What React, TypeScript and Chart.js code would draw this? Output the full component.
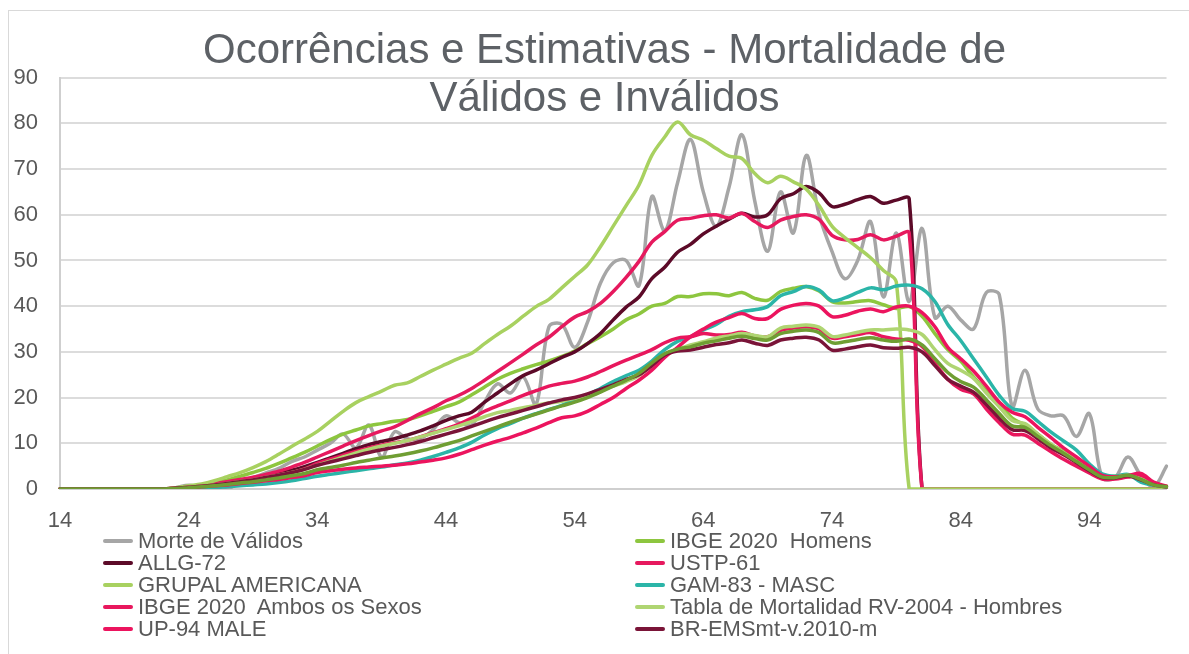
import React, { useEffect, useRef } from "react";
import { Chart, registerables } from "chart.js";

Chart.register(...registerables);

const FONT = '"Liberation Sans", Arial, sans-serif';
const TEXT_COLOR = "#595959";

const TITLE_LINES = ["Ocorrências e Estimativas - Mortalidade de", "Válidos e Inválidos"];

const ages = [
  "14", "15", "16", "17", "18", "19", "20", "21", "22", "23", "24", "25", "26", "27", "28", "29", "30",
  "31", "32", "33", "34", "35", "36", "37", "38", "39", "40", "41", "42", "43", "44", "45", "46", "47",
  "48", "49", "50", "51", "52", "53", "54", "55", "56", "57", "58", "59", "60", "61", "62", "63", "64",
  "65", "66", "67", "68", "69", "70", "71", "72", "73", "74", "75", "76", "77", "78", "79", "80", "81",
  "82", "83", "84", "85", "86", "87", "88", "89", "90", "91", "92", "93", "94", "95", "96", "97", "98",
  "99", "100",
];

const xTickLabels = ["14", "24", "34", "44", "54", "64", "74", "84", "94"];

// ages 14-22 | 23-27 | 28-32 | 33-37 | 38-42 | 43-47 | 48-52 | 53-57 | 58-62 | 63-67 | 68-72 | 73-77 | 78-82 | 83-87 | 88-92 | 93-97 | 98-100
const morteValidos = [
  0, 0, 0, 0, 0, 0, 0, 0, 0,
  0.3, 0.8, 0.3, 0.2, 0,
  1.5, 2.5, 3.5, 4.5, 6,
  7, 8.5, 10, 12, 9,
  14, 7, 12.5, 11, 11,
  13, 16, 14.5, 14, 19,
  23, 21, 24.5, 18.5, 35.5,
  36, 31, 36.5, 45, 49.5,
  50, 44.5, 64, 56.5, 67,
  76.5, 65, 57.5, 66, 77.5,
  63, 52, 65, 56, 73,
  60, 52, 46, 50, 58.5,
  42, 56, 41, 57, 37.5,
  40, 37, 35, 43, 42.5,
  18, 26, 17.5, 16, 16,
  11.5, 16.5, 2.5, 2.5, 7,
  3, 0.5, 5,
];

const ibgeHomens = [
  0, 0, 0, 0, 0, 0, 0, 0, 0,
  0.2, 0.5, 0.9, 1.4, 2.0,
  2.8, 3.6, 4.5, 5.6, 6.8,
  8.0, 9.4, 10.8, 12.0, 12.9,
  13.8, 14.3, 14.8, 15.2, 16.0,
  17.0, 18.0, 19.0, 20.6, 22.3,
  24.0, 25.3, 26.3, 27.2, 28.0,
  29.0, 30.2, 31.8, 33.3, 35.0,
  37.0, 38.3, 40.0, 40.6, 42.1,
  42.1, 42.7, 42.7, 42.3, 43.0,
  41.7, 41.3, 43.2, 43.9, 44.3,
  43.3, 41.0, 40.7, 41.0, 41.2,
  40.3, 39.5, 39.9, 37.8, 34.0,
  30.5, 28.0, 24.5, 21.5, 19.0,
  15.5, 14.0, 12.0, 9.8, 8.2,
  6.2, 4.2, 2.8, 2.8, 3.1,
  2.0, 0.9, 0.6,
];

const allg72 = [
  0, 0, 0, 0, 0, 0, 0, 0, 0,
  0.2, 0.4, 0.7, 1.0, 1.4,
  1.8, 2.3, 2.8, 3.4, 4.1,
  4.9, 5.8, 6.8, 7.8, 8.8,
  9.7, 10.4, 11.0, 11.8, 12.7,
  13.8, 15.0, 16.0, 16.8, 19.0,
  21.0, 23.0, 24.8, 26.0, 27.4,
  28.8, 30.0, 31.8, 34.0, 37.0,
  39.8, 42.0, 46.0, 48.5, 51.8,
  53.5, 55.8, 57.5, 59.0, 60.3,
  59.5, 60.0, 63.5, 64.6, 66.2,
  64.8, 61.8, 62.3, 63.3, 64.0,
  62.5, 63.2, 63.5, 0, 0,
  0, 0, 0, 0, 0,
  0, 0, 0, 0, 0,
  0, 0, 0, 0, 0,
  0, 0, 0,
];

const ustp61 = [
  0, 0, 0, 0, 0, 0, 0, 0, 0,
  0.2, 0.5, 0.8, 1.2, 1.6,
  2.1, 2.6, 3.2, 3.9, 4.8,
  5.8, 7.0, 8.2, 9.4, 10.6,
  11.7, 12.7, 13.6, 15.0, 16.5,
  17.8, 19.3, 20.5, 22.0, 23.8,
  25.7, 27.6, 29.5, 31.5, 33.2,
  35.5, 37.6, 38.8, 40.6, 43.2,
  46.3, 49.8, 54.0, 56.3, 58.8,
  59.2, 59.8, 60.0, 59.3, 60.3,
  58.5, 57.2, 58.8, 59.6, 60.0,
  59.0, 55.5, 54.5, 54.6, 55.6,
  54.5, 55.3, 56.0, 0, 0,
  0, 0, 0, 0, 0,
  0, 0, 0, 0, 0,
  0, 0, 0, 0, 0,
  0, 0, 0,
];

const grupalAmericana = [
  0, 0, 0, 0, 0, 0, 0, 0, 0,
  0.3, 0.7, 1.1, 1.8, 2.7,
  3.6, 4.7, 6.0, 7.6, 9.3,
  10.9, 12.6, 14.8, 17.0, 18.9,
  20.2, 21.4, 22.7, 23.2, 24.6,
  26.0, 27.3, 28.6, 29.7, 31.8,
  33.8, 35.6, 37.8, 39.9, 41.5,
  44.0, 46.5, 49.0, 53.0, 57.5,
  62.0, 66.5, 73.0, 77.0, 80.3,
  77.5, 76.3, 74.5, 72.8, 72.3,
  69.0, 67.0, 68.4, 67.2, 65.6,
  62.0, 57.5, 55.0, 52.8, 50.6,
  47.8, 45.3, 0, 0, 0,
  0, 0, 0, 0, 0,
  0, 0, 0, 0, 0,
  0, 0, 0, 0, 0,
  0, 0, 0,
];

const gam83 = [
  0, 0, 0, 0, 0, 0, 0, 0, 0,
  0.05, 0.1, 0.2, 0.3, 0.5,
  0.7, 0.9, 1.1, 1.4, 1.8,
  2.3, 2.8, 3.2, 3.6, 4.0,
  4.4, 4.8, 5.3, 5.7, 6.3,
  7.1, 8.0, 9.0, 10.2, 11.8,
  13.2, 14.3, 15.5, 16.5, 17.4,
  18.3, 19.6, 20.6, 22.0, 23.5,
  24.8, 26.0, 28.0, 30.5, 32.3,
  33.3, 34.8, 36.0, 37.8, 38.8,
  39.2, 39.9, 42.3, 43.2, 44.3,
  43.5, 41.2, 41.8, 43.0, 44.0,
  43.6, 44.4, 44.6, 43.8, 41.0,
  36.0, 32.5, 28.5, 24.5, 20.5,
  17.6, 17.0, 14.8, 12.5, 10.5,
  8.5, 5.5, 3.3, 2.8, 3.2,
  1.5, 0.8, 0.5,
];

const ibgeAmbos = [
  0, 0, 0, 0, 0, 0, 0, 0, 0,
  0.2, 0.4, 0.6, 0.9, 1.2,
  1.6, 2.0, 2.5, 3.0, 3.6,
  4.4, 5.6, 6.5, 7.4, 8.2,
  9.0, 9.6, 10.1, 10.6, 11.4,
  12.3, 13.2, 14.2, 15.5, 17.0,
  18.2, 19.3, 20.5, 21.5, 22.5,
  23.1, 23.6, 24.5, 25.7, 27.0,
  28.2, 29.3, 30.5, 32.0, 33.0,
  33.3, 34.0, 33.7, 33.8, 34.3,
  33.5, 33.3, 34.7, 35.2, 35.5,
  35.0, 33.0, 33.3, 33.8, 34.2,
  33.3, 32.8, 32.5, 31.2, 27.5,
  24.0, 21.8, 20.8, 17.5, 14.5,
  12.0, 11.8, 10.0, 8.2, 6.5,
  5.0, 3.5, 2.2, 2.2, 2.6,
  2.8, 1.0, 0.5,
];

const tablaRV2004 = [
  0, 0, 0, 0, 0, 0, 0, 0, 0,
  0.2, 0.4, 0.6, 0.9, 1.2,
  1.6, 2.0, 2.5, 3.0, 3.6,
  4.3, 5.2, 6.1, 7.0, 7.9,
  8.7, 9.4, 10.0, 10.6, 11.4,
  12.2, 13.0, 13.8, 14.8, 15.8,
  16.7, 17.2, 17.8, 18.3, 18.8,
  19.2, 19.8, 20.5, 21.5, 22.5,
  23.5, 24.8, 27.2, 29.5, 30.5,
  31.5, 32.2, 33.0, 33.5, 34.0,
  33.6, 33.3, 35.2, 35.6, 35.9,
  35.4, 33.4, 33.7, 34.3, 34.8,
  34.8, 35.0, 34.8, 33.8, 30.5,
  27.5, 26.0, 24.2, 21.0, 18.0,
  15.0, 14.3, 12.0, 9.8, 8.0,
  6.3, 4.5, 2.8, 2.6, 3.0,
  2.2, 0.9, 0.6,
];

const up94Male = [
  0, 0, 0, 0, 0, 0, 0, 0, 0,
  0.1, 0.3, 0.5, 0.7, 0.9,
  1.2, 1.5, 1.8, 2.1, 2.5,
  2.9, 3.6, 4.0, 4.3, 4.6,
  4.8, 5.0, 5.2, 5.5, 5.9,
  6.3, 6.8, 7.6, 8.6, 9.6,
  10.5, 11.3, 12.3, 13.3, 14.5,
  15.6, 16.0, 17.0, 18.5, 20.0,
  22.0, 23.8, 26.0, 28.8, 31.0,
  33.3, 35.0, 36.5, 37.5, 38.4,
  37.3, 37.3, 39.3, 40.2, 40.6,
  40.0, 37.7, 38.0, 38.9, 39.4,
  38.8, 39.8, 40.0, 38.6, 35.5,
  31.0, 28.5, 25.8, 22.5, 19.0,
  16.8, 15.8, 13.5, 11.3, 9.0,
  7.0, 5.0, 3.0, 2.7, 2.9,
  3.4, 1.5, 0.6,
];

const brEmsMt2010 = [
  0, 0, 0, 0, 0, 0, 0, 0, 0,
  0.2, 0.4, 0.6, 0.9, 1.2,
  1.6, 2.0, 2.5, 3.0, 3.6,
  4.3, 5.2, 5.9, 6.6, 7.3,
  8.0, 8.6, 9.1, 9.7, 10.4,
  11.2, 12.0, 12.8, 13.7, 14.7,
  15.6, 16.4, 17.2, 18.0, 18.8,
  19.5, 20.0, 20.8, 21.8, 22.8,
  24.0, 25.0, 27.0, 29.3, 30.2,
  30.4, 31.0, 31.6, 32.0, 32.6,
  31.9, 31.4, 32.6, 33.0, 33.2,
  32.6, 30.4, 30.6, 31.1, 31.5,
  30.9, 30.8, 31.0, 30.0, 27.0,
  24.0, 22.5, 21.2, 18.5, 15.5,
  13.0, 12.8, 11.0, 9.0, 7.5,
  5.8, 4.0, 2.5, 2.4, 2.9,
  2.0, 0.9, 0.5,
];

// 11th series (drawn in the chart, its legend entry falls outside the visible frame)
const brEmsSb2010 = [
  0, 0, 0, 0, 0, 0, 0, 0, 0,
  0.1, 0.3, 0.5, 0.7, 1.0,
  1.3, 1.6, 2.0, 2.4, 2.9,
  3.4, 4.2, 4.7, 5.2, 5.8,
  6.3, 6.8, 7.2, 7.7, 8.3,
  9.0, 9.8, 10.6, 11.6, 12.6,
  13.6, 14.6, 15.5, 16.4, 17.3,
  18.2, 19.0, 20.0, 21.2, 22.5,
  23.8, 25.3, 27.6, 29.6, 30.6,
  31.1, 31.9, 32.4, 33.0, 33.4,
  32.9, 32.6, 34.0, 34.5, 34.8,
  34.2, 32.0, 32.2, 32.7, 33.1,
  32.6, 32.3, 32.8, 31.5, 28.5,
  25.5, 23.5, 22.3, 19.5, 16.5,
  13.8, 13.5, 11.5, 9.5, 7.8,
  6.0, 4.2, 2.6, 2.5, 3.0,
  2.1, 0.9, 0.5,
];

const seriesNames = [
  "Morte de Válidos",
  "IBGE 2020  Homens",
  "ALLG-72",
  "USTP-61",
  "GRUPAL AMERICANA",
  "GAM-83 - MASC",
  "IBGE 2020  Ambos os Sexos",
  "Tabla de Mortalidad RV-2004 - Hombres",
  "UP-94 MALE",
  "BR-EMSmt-v.2010-m",
  "BR-EMSsb-v.2010-m",
];

const seriesValues = [
  morteValidos,
  ibgeHomens,
  allg72,
  ustp61,
  grupalAmericana,
  gam83,
  ibgeAmbos,
  tablaRV2004,
  up94Male,
  brEmsMt2010,
  brEmsSb2010,
];

const seriesColors = [
  "#A6A6A6",
  "#8DC63F",
  "#5C0A28",
  "#E6195E",
  "#A8D160",
  "#2BB5A8",
  "#E8175D",
  "#AFD572",
  "#EC145E",
  "#7A1438",
  "#6F9E33",
];

const legendCount = 10;

export default function App() {
  const canvasRef = useRef<HTMLCanvasElement | null>(null);

  useEffect(() => {
    const canvas = canvasRef.current;
    if (!canvas) return;
    const n = seriesNames.length;
    const chart = new Chart(canvas, {
      type: "line",
      data: {
        labels: ages,
        datasets: seriesNames.map((name, i) => ({
          label: name,
          data: seriesValues[i],
          borderColor: seriesColors[i],
          backgroundColor: seriesColors[i],
          borderWidth: 3.5,
          pointRadius: 0,
          tension: 0.35,
          fill: false,
          order: n - i,
        })),
      },
      options: {
        responsive: false,
        animation: false,
        devicePixelRatio: 1,
        layout: { padding: { left: 0, right: 22.5, top: 77.6, bottom: 0 } },
        plugins: {
          legend: { display: false },
          title: { display: false },
          tooltip: { enabled: false },
        },
        elements: {
          line: { borderCapStyle: "round", borderJoinStyle: "round" },
        },
        scales: {
          x: {
            type: "category",
            offset: false,
            grid: { display: false, drawTicks: false },
            border: { display: true, color: "#cfcfcf", width: 2 },
            ticks: {
              autoSkip: false,
              maxRotation: 0,
              minRotation: 0,
              padding: 19,
              color: TEXT_COLOR,
              font: { size: 22, family: FONT },
              callback: (_v: any, i: number) => (xTickLabels.includes(ages[i]) ? ages[i] : ""),
            },
            afterFit: (s: any) => {
              s.height = 165;
            },
          },
          y: {
            min: 0,
            max: 90,
            ticks: {
              stepSize: 10,
              padding: 22,
              color: TEXT_COLOR,
              font: { size: 22, family: FONT },
            },
            grid: { color: "#dcdcdc", lineWidth: 2, drawTicks: false },
            border: { display: true, color: "#cfcfcf", width: 2 },
            afterFit: (s: any) => {
              s.width = 60;
            },
          },
        },
      },
    });
    return () => chart.destroy();
  }, []);

  const legendItems = seriesNames.slice(0, legendCount).map((name, i) => ({
    name,
    color: seriesColors[i],
    col: i % 2,
    row: Math.floor(i / 2),
  }));

  return (
    <div
      style={{
        position: "fixed",
        left: 0,
        top: 0,
        width: 1189,
        height: 654,
        overflow: "hidden",
        background: "#ffffff",
        fontFamily: FONT,
      }}
    >
      <div
        style={{
          position: "absolute",
          left: 8,
          top: 10,
          width: 1260,
          height: 720,
          border: "1px solid #d9d9d9",
          boxSizing: "border-box",
        }}
      />
      <canvas
        ref={canvasRef}
        width={1189}
        height={654}
        style={{ position: "absolute", left: 0, top: 0, width: 1189, height: 654 }}
      />
      <div
        style={{
          position: "absolute",
          left: 0,
          top: 25,
          width: 1209,
          textAlign: "center",
          fontSize: 42,
          lineHeight: "48px",
          color: "#5d6166",
          whiteSpace: "nowrap",
        }}
      >
        {TITLE_LINES.map((t) => (
          <div key={t}>{t}</div>
        ))}
      </div>
      {legendItems.map((it) => (
        <div
          key={it.name}
          style={{
            position: "absolute",
            left: it.col === 0 ? 103 : 635,
            top: 530 + it.row * 22,
            height: 22,
            display: "flex",
            alignItems: "center",
            whiteSpace: "pre",
          }}
        >
          <div
            style={{
              width: 30,
              height: 4,
              borderRadius: 2,
              background: it.color,
              marginRight: 5,
            }}
          />
          <span style={{ fontSize: 22, lineHeight: "22px", color: TEXT_COLOR, whiteSpace: "pre" }}>
            {it.name}
          </span>
        </div>
      ))}
    </div>
  );
}
